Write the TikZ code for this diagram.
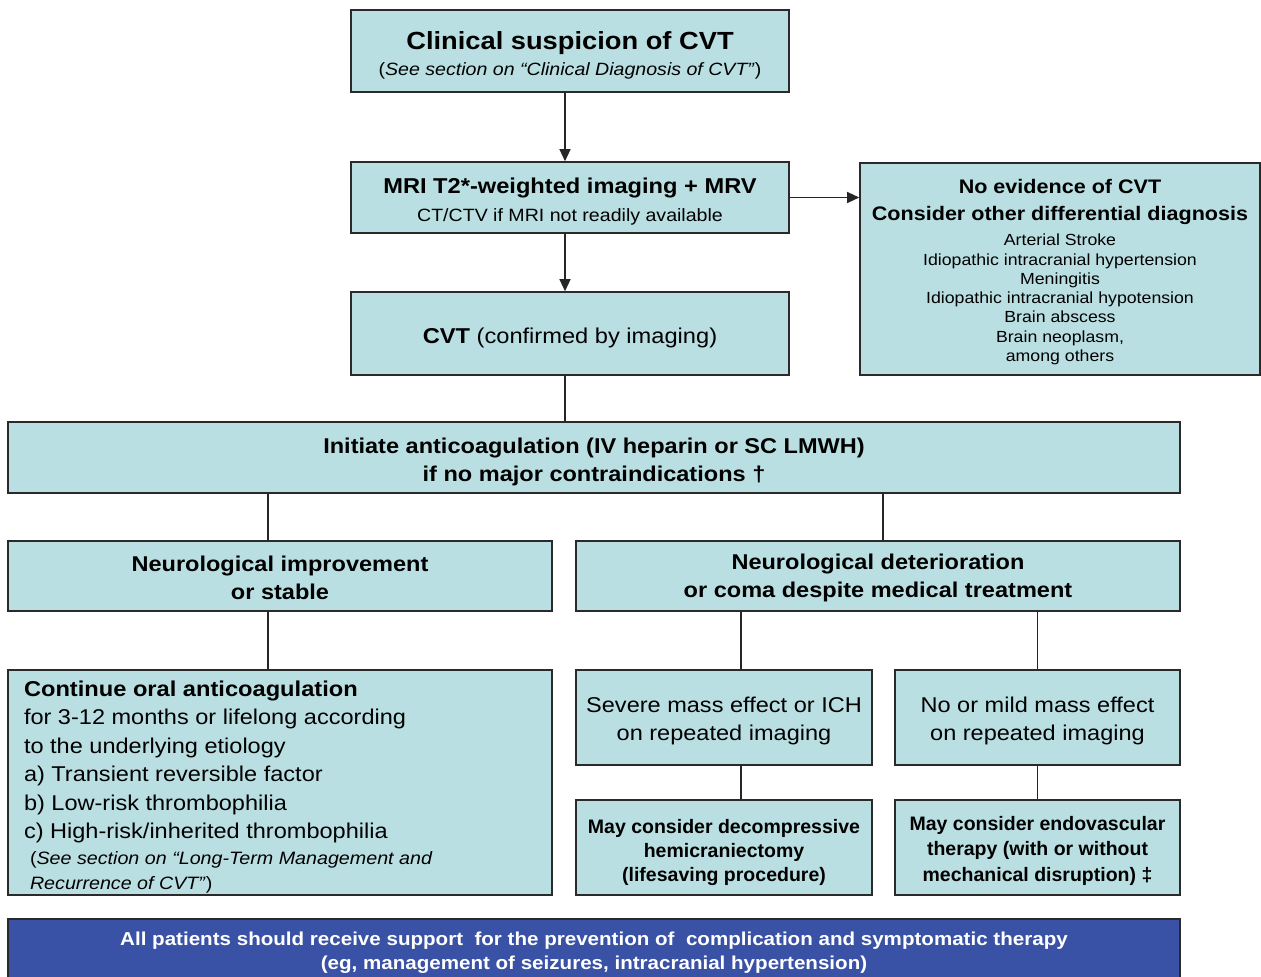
\documentclass[tikz,border=0pt]{standalone}
\usepackage{fontspec}
\setmainfont{Liberation Sans}[FakeStretch=1.1]
\newfontfamily\plainfont{Liberation Sans}
\usetikzlibrary{arrows.meta}
\definecolor{boxfill}{HTML}{BADFE2}
\definecolor{bluebar}{HTML}{3A52A5}
\definecolor{edgecol}{HTML}{2A2A2A}
\newcommand{\fs}[2]{\fontsize{#1}{#2}\selectfont}
\newcommand{\dn}[1][8pt]{\rule{0pt}{\dimexpr0.75em+#1\relax}}
\begin{document}
\begin{tikzpicture}[x=1pt,y=-1pt,
  box/.style={draw=edgecol, line width=1.6pt, fill=boxfill, inner sep=0pt, align=center},
  conn/.style={line width=1.3pt, draw=black!85},
  arr/.style={conn, -{Triangle[length=12pt,width=11pt]}}]
\useasboundingbox (0,0) rectangle (1261,977);
\fill[white] (0,0) rectangle (1261,977);

% row 1
\node[box, minimum width=438pt, minimum height=82pt, font=\fs{17.8}{26}] (b1) at (570,51)
  {\fs{24.8}{30}\bfseries\dn Clinical suspicion of CVT\\
   \fs{17.8}{26}\mdseries(\textit{See section on “Clinical Diagnosis of CVT”})};

\node[box, minimum width=438pt, minimum height=71pt, font=\fs{17.8}{28}] (b2) at (570,197.5)
  {\fs{21.5}{26}\bfseries\dn MRI T2*-weighted imaging + MRV\\
   \fs{17.8}{22}\mdseries CT/CTV if MRI not readily available};

\node[box, minimum width=438pt, minimum height=83pt, font=\fs{21.5}{26}] (b3) at (570,333.5)
  {\dn\textbf{CVT} (confirmed by imaging)};

\node[box, minimum width=400pt, minimum height=212pt, font=\fs{16.1}{19.3}] (rbox) at (1060,269)
  {\fs{19.6}{27}\bfseries\dn[6pt]No evidence of CVT\\[7.7pt]
   \fs{19.6}{27}\bfseries Consider other differential diagnosis\\[5.7pt]
   \fs{16.1}{19.3}\mdseries Arterial Stroke\\
   \fs{16.1}{19.3}\mdseries Idiopathic intracranial hypertension\\
   \fs{16.1}{19.3}\mdseries Meningitis\\
   \fs{16.1}{19.3}\mdseries Idiopathic intracranial hypotension\\
   \fs{16.1}{19.3}\mdseries Brain abscess\\
   \fs{16.1}{19.3}\mdseries Brain neoplasm,\\
   \fs{16.1}{19.3}\mdseries among others};

% row 2
\node[box, minimum width=1172pt, minimum height=71pt, font=\fs{21.4}{28}\bfseries] (init) at (594,457.5)
  {\dn Initiate anticoagulation (IV heparin or SC LMWH)\\ if no major contraindications †};

\node[box, minimum width=544pt, minimum height=70pt, font=\fs{21.4}{28}\bfseries] (imp) at (280,576)
  {\dn[4pt]Neurological improvement\\ or stable};

\node[box, minimum width=604pt, minimum height=70pt, font=\fs{21.4}{28}\bfseries] (det) at (878,576)
  {\dn[4pt]Neurological deterioration\\ or coma despite medical treatment};

% row 3
\node[box, minimum width=544pt, minimum height=225pt, text width=512pt, align=flush left, inner xsep=16pt, font=\fs{21.4}{28.5}] (cont) at (280,782.5)
  {{\fs{21.5}{28.5}\bfseries\dn Continue oral anticoagulation}\\
   for 3-12 months or lifelong according\\ to the underlying etiology\\
   a) Transient reversible factor\\ b) Low-risk thrombophilia\\ c) High-risk/inherited thrombophilia\\[-3pt]
   {\fs{17.9}{25}\hspace*{6pt}(\textit{See section on “Long-Term Management and}}\\[-3.5pt]
   {\fs{17.9}{25}\hspace*{6pt}\textit{Recurrence of CVT”})}};

\node[box, minimum width=296pt, minimum height=95pt, font=\fs{21.4}{28}] (sev) at (724,717.5)
  {\dn[6pt]Severe mass effect or ICH\\ on repeated imaging};

\node[box, minimum width=285pt, minimum height=95pt, font=\fs{21.4}{28}] (mild) at (1037.5,717.5)
  {\dn[6pt]No or mild mass effect\\ on repeated imaging};

\node[box, minimum width=296pt, minimum height=95pt, font=\plainfont\fs{19.5}{24}\bfseries] (dec) at (724,847.5)
  {\dn[9pt]May consider decompressive\\ hemicraniectomy\\ (lifesaving procedure)};

\node[box, minimum width=285pt, minimum height=95pt, font=\plainfont\fs{19.5}{25.5}\bfseries] (endo) at (1037.5,847.5)
  {\dn[6pt]May consider endovascular\\ therapy (with or without\\ mechanical disruption) ‡};

\node[box, fill=bluebar, text=white, minimum width=1172pt, minimum height=62pt, anchor=north, font=\fs{18.7}{24.5}\bfseries] (all) at (594,918)
  {\dn[5pt]All patients should receive support\ \ for the prevention of\ \ complication and symptomatic therapy\\ (eg, management of seizures, intracranial hypertension)};

% connectors
\draw[arr] ([xshift=-5pt]b1.south) -- ([xshift=-5pt]b2.north);
\draw[arr] ([xshift=-5pt]b2.south) -- ([xshift=-5pt]b3.north);
\draw[arr] (b2.east) -- (b2.east -| rbox.west);
\draw[conn] ([xshift=-5pt]b3.south) -- ([xshift=-5pt]b3.south |- init.north);
\draw[conn] ([xshift=-12pt]imp.north) -- ([xshift=-12pt]imp.north |- init.south);
\draw[conn] ([xshift=5pt]det.north) -- ([xshift=5pt]det.north |- init.south);
\draw[conn] ([xshift=-12pt]imp.south) -- ([xshift=-12pt]cont.north);
\draw[conn] ([xshift=17pt]sev.north) -- ([xshift=17pt]sev.north |- det.south);
\draw[conn] (mild.north) -- (mild.north |- det.south);
\draw[conn] ([xshift=17pt]sev.south) -- ([xshift=17pt]dec.north);
\draw[conn] (mild.south) -- (endo.north);
\end{tikzpicture}
\end{document}
